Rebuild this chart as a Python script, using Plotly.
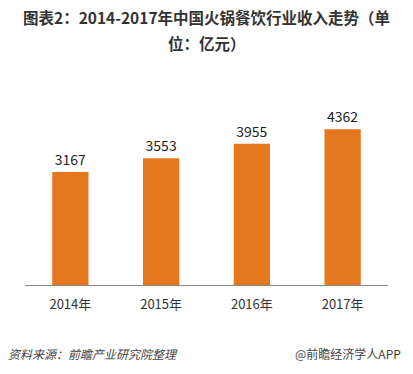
import plotly.graph_objects as go

years = ["2014年", "2015年", "2016年", "2017年"]
revenue = [3167, 3553, 3955, 4362]

font_cjk = "Microsoft YaHei, Noto Sans CJK SC, sans-serif"

fig = go.Figure()
fig.add_trace(go.Bar(
    x=years, y=revenue,
    marker=dict(color="#E5781E", line=dict(width=0)),
    text=[str(v) for v in revenue],
    textposition="outside",
    textfont=dict(size=14, color="#222", family=font_cjk),
    cliponaxis=False,
    hoverinfo="skip",
))

fig.update_layout(
    width=413, height=374,
    margin=dict(l=25, r=25, t=95, b=89),
    paper_bgcolor="white", plot_bgcolor="white",
    bargap=0.6,
    showlegend=False,
    xaxis=dict(showline=True, linecolor="#888", linewidth=1, ticks="",
               tickfont=dict(size=13, color="#333", family=font_cjk),
               ticklabelstandoff=7,
               showgrid=False),
    yaxis=dict(range=[0, 5322], visible=False, showgrid=False),
)

fig.add_annotation(text="<b>图表2：2014-2017年中国火锅餐饮行业收入走势（单</b>",
                   xref="paper", yref="paper", x=0.5, y=1, yshift=95 - 17,
                   xanchor="center", yanchor="middle", showarrow=False,
                   font=dict(size=15.5, color="#333", family=font_cjk))
fig.add_annotation(text="<b>位：亿元）</b>",
                   xref="paper", yref="paper", x=0.5, y=1, yshift=95 - 43,
                   xanchor="center", yanchor="middle", showarrow=False,
                   font=dict(size=15.5, color="#333", family=font_cjk))
fig.add_annotation(text="<i>资料来源：前瞻产业研究院整理</i>",
                   xref="paper", yref="paper", x=0, xshift=-19, y=0, yshift=-(353 - 285),
                   xanchor="left", yanchor="middle", showarrow=False,
                   font=dict(size=12, color="#444", family=font_cjk))
fig.add_annotation(text="@前瞻经济学人APP",
                   xref="paper", yref="paper", x=1, xshift=15, y=0, yshift=-(353 - 285),
                   xanchor="right", yanchor="middle", showarrow=False,
                   font=dict(size=12, color="#444", family=font_cjk))

fig.write_html("out.html", config={"displayModeBar": False},
               post_script="document.body.style.margin='0';")
